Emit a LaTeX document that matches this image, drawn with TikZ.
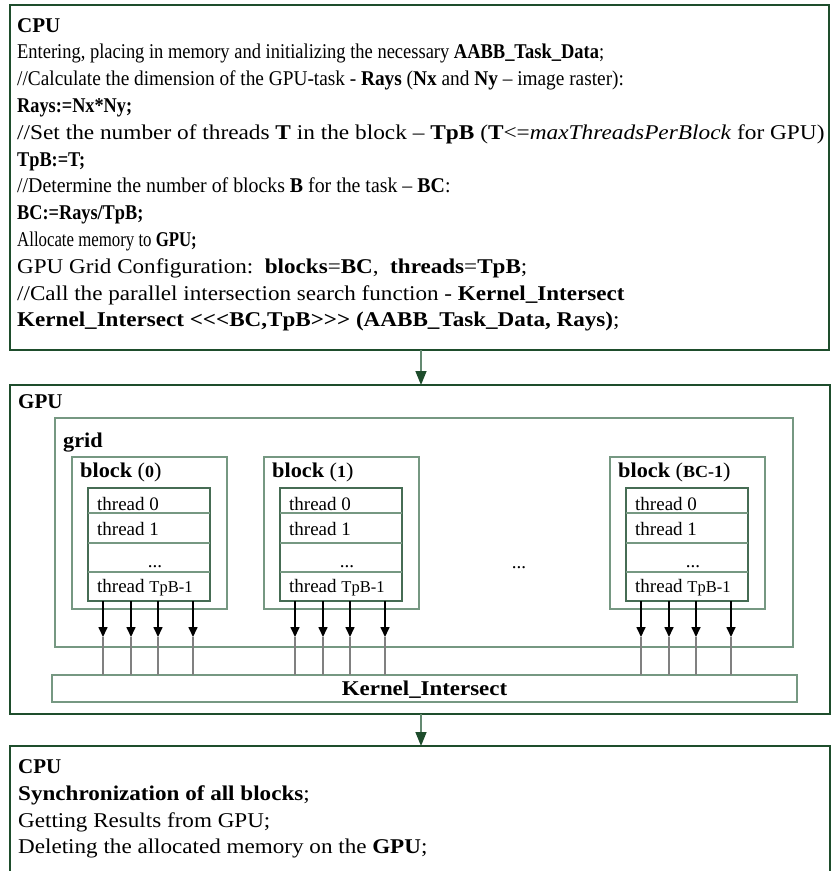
\documentclass[tikz,border=0pt]{standalone}
\usepackage{fontspec}
\usepackage{graphicx}
\setmainfont{Liberation Serif}
\usetikzlibrary{arrows.meta,calc}
\definecolor{dkgreen}{RGB}{30,77,44}
\definecolor{ltgreen}{RGB}{118,152,130}
\definecolor{mdgreen}{RGB}{70,108,84}
\definecolor{arrline}{RGB}{100,138,113}
\newcommand{\cpuline}[5]{\node[txt] (#1) at (#2,#3) {\scalebox{#4}[1]{#5}};}
\begin{document}
\begin{tikzpicture}[x=1pt,y=-1pt,
  outerbox/.style={draw=dkgreen, line width=2.5pt, inner sep=0pt, outer sep=0pt, anchor=north west},
  innerbox/.style={draw=ltgreen, line width=1.2pt, inner sep=0pt, outer sep=0pt, anchor=north west},
  thrbox/.style={draw=mdgreen, line width=1.2pt, inner sep=0pt, outer sep=0pt, anchor=north west},
  thrline/.style={draw=ltgreen, line width=1.2pt},
  txt/.style={anchor=base west, inner sep=0pt, font=\fontsize{21}{25}\selectfont},
  ttxt/.style={anchor=base west, inner sep=0pt, font=\fontsize{19}{22}\selectfont},
  bigarrow/.style={draw=arrline, line width=1.5pt, -{Triangle[length=14pt,width=11pt,color=dkgreen]}},
  tarrow/.style={draw=black, line width=1.6pt, -{Triangle[length=10pt,width=9pt]}},
  gline/.style={draw=gray, line width=1.2pt}
]
\clip (0,0) rectangle (832,871);
\fill[white] (0,0) rectangle (832,871);

% ---------- top CPU box ----------
\node[outerbox, minimum width=819pt, minimum height=345pt] (cpuA) at (10,5) {};
\cpuline{ca1}{17}{32}{1}{\textbf{CPU}}
\cpuline{ca2}{17}{58.8}{0.88}{Entering, placing in memory and initializing the necessary \textbf{AABB\_Task\_Data};}
\cpuline{ca3}{17}{85.6}{0.92}{//Calculate the dimension of the GPU-task - \textbf{Rays} (\textbf{Nx} and \textbf{Ny} – image raster):}
\cpuline{ca4}{17}{112.4}{0.87}{\textbf{Rays:=Nx*Ny;}}
\cpuline{ca5}{17}{139.2}{1.11}{//Set the number of threads \textbf{T} in the block – \textbf{TpB} (\textbf{T}<=\textit{maxThreadsPerBlock} for GPU)}
\cpuline{ca6}{17}{166}{0.87}{\textbf{TpB:=T;}}
\cpuline{ca7}{17}{192.8}{0.945}{//Determine the number of blocks \textbf{B} for the task – \textbf{BC}:}
\cpuline{ca8}{17}{219.6}{0.87}{\textbf{BC:=Rays/TpB;}}
\cpuline{ca9}{17}{246.4}{0.80}{Allocate memory to \textbf{GPU;}}
\cpuline{ca10}{17}{273.2}{1.10}{GPU Grid Configuration:\ \ \textbf{blocks}=\textbf{BC},\ \ \textbf{threads}=\textbf{TpB};}
\cpuline{ca11}{17}{300}{1.10}{//Call the parallel intersection search function - \textbf{Kernel\_Intersect}}
\cpuline{ca12}{17}{326.8}{1.10}{\textbf{Kernel\_Intersect <\kern0pt<\kern0pt<BC,TpB>\kern0pt>\kern0pt> (AABB\_Task\_Data, Rays)};}

% ---------- GPU box ----------
\node[outerbox, minimum width=820pt, minimum height=329pt] (gpu) at (10,385) {};
\node[txt] (gpulab) at (18,408) {\textbf{GPU}};
\node[innerbox, minimum width=738pt, minimum height=229pt] (grid) at (55,418) {};
\node[txt] (gridlab) at (63,447) {\scalebox{1.06}[1]{\textbf{grid}}};
\node[innerbox, minimum width=745pt, minimum height=27pt] (kernel) at (52,675) {};
\node[txt, anchor=base] (ktext) at (424.5,695) {\scalebox{1.09}[1]{\textbf{Kernel\_Intersect}}};
\node[ttxt, anchor=base] (middots) at (519,568) {...};

\foreach \i/\bx/\lab in {0/72/0, 1/264/1, 2/610/BC-1}{
  \node[innerbox, minimum width=155pt, minimum height=152pt] (blk\i) at (\bx,457) {};
  \node[txt] (bl\i) at (\bx+8,477) {\scalebox{1.06}[1]{\textbf{block} (\textbf{\fontsize{17}{17}\selectfont\lab})}};
  \node[thrbox, minimum width=122pt, minimum height=113pt] (thr\i) at (\bx+16,488) {};
  \draw[thrline] (thr\i.north west) ++(0,25) -- ++(122,0);
  \draw[thrline] (thr\i.north west) ++(0,55) -- ++(122,0);
  \draw[thrline] (thr\i.north west) ++(0,84) -- ++(122,0);
  \node[ttxt] (ta\i) at (\bx+25,510) {thread 0};
  \node[ttxt] (tb\i) at (\bx+25,535) {thread 1};
  \node[ttxt, anchor=base] (td\i) at (\bx+83,567) {...};
  \node[ttxt] (tc\i) at (\bx+25,592) {thread {\fontsize{16.5}{16.5}\selectfont TpB-1}};
  \foreach \o in {15,43,70,105}{
    \coordinate (tip\i-\o) at ($(thr\i.south west)+(\o,36)$);
    \draw[tarrow] ($(thr\i.south west)+(\o,0)$) -- (tip\i-\o);
    \draw[gline] (tip\i-\o) -- (tip\i-\o |- kernel.north);
  }
}

% ---------- bottom CPU box ----------
\node[outerbox, minimum width=820pt, minimum height=140pt] (cpuB) at (10,746) {};
\cpuline{cb1}{18}{773}{1}{\textbf{CPU}}
\cpuline{cb2}{18}{800}{1.10}{\textbf{Synchronization of all blocks};}
\cpuline{cb3}{18}{827}{1.10}{Getting Results from GPU;}
\cpuline{cb4}{18}{853}{1.10}{Deleting the allocated memory on the \textbf{GPU};}

% ---------- connectors ----------
\draw[bigarrow] ([xshift=1.5pt]cpuA.south) -- ([xshift=1pt]gpu.north);
\draw[bigarrow] ([xshift=1pt]gpu.south) -- ([xshift=1pt]cpuB.north);
\end{tikzpicture}
\end{document}
